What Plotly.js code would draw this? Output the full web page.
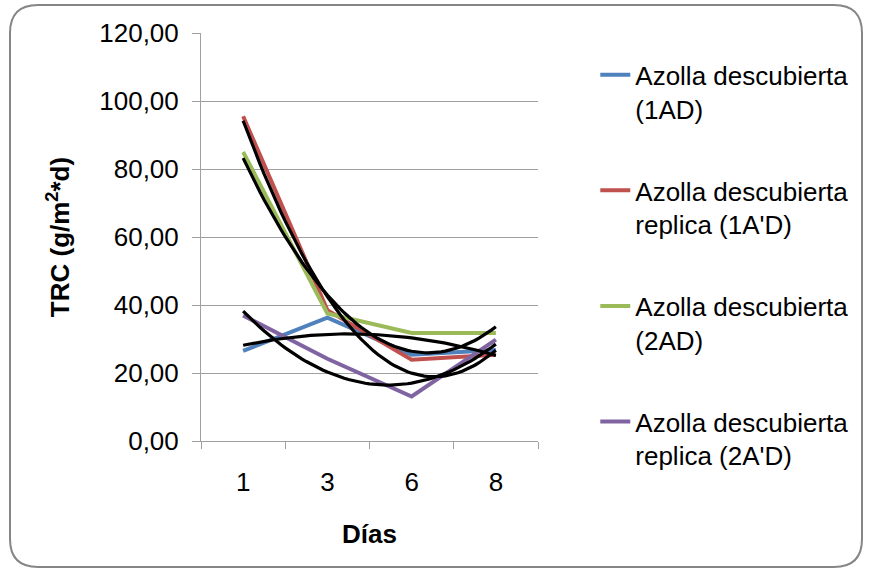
<!DOCTYPE html>
<html>
<head>
<meta charset="utf-8">
<script src="https://cdn.plot.ly/plotly-3.0.1.min.js"></script>
<style>
  html, body { margin: 0; padding: 0; background: #ffffff; }
  #chart { width: 870px; height: 573px; }
</style>
</head>
<body>
<div id="chart"></div>
<script>
// Sampling days (category axis)
const dias = ['1', '3', '6', '8'];

// TRC (g/m2*d) per treatment
const trc1AD  = [26.5, 36.3, 25.4, 26.8];
const trc1pAD = [95.5, 38.5, 23.9, 25.4];
const trc2AD  = [85.0, 37.5, 31.8, 31.8];
const trc2pAD = [36.9, 24.2, 13.1, 29.8];

const nombres = [
  'Azolla descubierta<br>(1AD)',
  "Azolla descubierta<br>replica (1A'D)",
  'Azolla descubierta<br>(2AD)',
  "Azolla descubierta<br>replica (2A'D)"
];
const colores = ['#4F81BD', '#C0504D', '#9BBB59', '#8064A2'];
const series = [trc1AD, trc1pAD, trc2AD, trc2pAD];

// Category positions 1..n (as a spreadsheet line chart uses them)
const pos = dias.map((d, i) => i + 1);

// Second-order polynomial least-squares fit: y = a + b*x + c*x^2
function ajustePoli2(xs, ys) {
  let S = [0, 0, 0, 0, 0], T = [0, 0, 0];
  xs.forEach((x, i) => {
    for (let k = 0; k < 5; k++) S[k] += Math.pow(x, k);
    for (let k = 0; k < 3; k++) T[k] += ys[i] * Math.pow(x, k);
  });
  const M = [[S[0], S[1], S[2], T[0]], [S[1], S[2], S[3], T[1]], [S[2], S[3], S[4], T[2]]];
  for (let c = 0; c < 3; c++) {
    for (let r = c + 1; r < 3; r++) {
      const f = M[r][c] / M[c][c];
      for (let k = c; k < 4; k++) M[r][k] -= f * M[c][k];
    }
  }
  const sol = [0, 0, 0];
  for (let r = 2; r >= 0; r--) {
    let s = M[r][3];
    for (let k = r + 1; k < 3; k++) s -= M[r][k] * sol[k];
    sol[r] = s / M[r][r];
  }
  return x => sol[0] + sol[1] * x + sol[2] * x * x;
}

const traces = [];
series.forEach((ys, i) => {
  traces.push({
    x: pos, y: ys, type: 'scatter', mode: 'lines',
    name: nombres[i], legendgroup: 'g' + i,
    line: { color: colores[i], width: 4 },
    hoverinfo: 'skip'
  });
});

// Polynomial trendlines (black), one per series
const xs = [];
for (let x = pos[0]; x <= pos[pos.length - 1] + 1e-9; x += 0.05) xs.push(x);
series.forEach((ys, i) => {
  const f = ajustePoli2(pos, ys);
  traces.push({
    x: xs, y: xs.map(f), type: 'scatter', mode: 'lines',
    xaxis: 'x2', yaxis: 'y',
    showlegend: false, hoverinfo: 'skip',
    line: { color: '#000000', width: 3.2 }
  });
});

const gris = '#A0A0A0';
const fuente = 'Liberation Sans, Arial, sans-serif';
const rangoX = [0.5, pos.length + 0.5];
const limites = [];
for (let i = 0; i <= pos.length; i++) limites.push(i + 0.5);

// Rounded chart-area frame, defined in pixels and converted to paper units
const W = 870, H = 573, mL = 201, mR = 332, mT = 33, mB = 132;
const pw = W - mL - mR, ph = H - mT - mB;
const px = v => (v - mL) / pw;
const py = v => (H - mB - v) / ph;
function marco(x0, y0, x1, y1, r) {
  return 'M' + px(x0 + r) + ',' + py(y0) +
    ' L' + px(x1 - r) + ',' + py(y0) +
    ' Q' + px(x1) + ',' + py(y0) + ' ' + px(x1) + ',' + py(y0 + r) +
    ' L' + px(x1) + ',' + py(y1 - r) +
    ' Q' + px(x1) + ',' + py(y1) + ' ' + px(x1 - r) + ',' + py(y1) +
    ' L' + px(x0 + r) + ',' + py(y1) +
    ' Q' + px(x0) + ',' + py(y1) + ' ' + px(x0) + ',' + py(y1 - r) +
    ' L' + px(x0) + ',' + py(y0 + r) +
    ' Q' + px(x0) + ',' + py(y0) + ' ' + px(x0 + r) + ',' + py(y0) + ' Z';
}

const layout = {
  width: W, height: H,
  margin: { l: mL, r: mR, t: mT, b: mB, pad: 0, autoexpand: false },
  paper_bgcolor: '#ffffff', plot_bgcolor: '#ffffff',
  separators: ',.',
  font: { family: fuente, color: '#000000', size: 26 },
  showlegend: true,
  legend: {
    x: 1.17, xanchor: 'left', y: 0.955, yanchor: 'top',
    maxheight: 520,
    font: { family: fuente, size: 26, color: '#000000' },
    bgcolor: 'rgba(0,0,0,0)', borderwidth: 0,
    tracegroupgap: 45, traceorder: 'grouped', valign: 'top'
  },
  xaxis: {
    range: rangoX, tickmode: 'array', tickvals: pos, ticktext: dias,
    ticks: '', showgrid: false, zeroline: false,
    showline: true, linecolor: gris, linewidth: 1,
    tickfont: { family: fuente, size: 26 }, ticklabelstandoff: 18,
    title: { text: '<b>Días</b>', font: { family: fuente, size: 26 }, standoff: 28 },
    fixedrange: true
  },
  xaxis2: {
    overlaying: 'x', anchor: 'y', side: 'bottom',
    range: rangoX, tickmode: 'array', tickvals: limites,
    ticks: 'outside', ticklen: 7, tickcolor: gris, tickwidth: 1,
    showticklabels: false, showgrid: false, zeroline: false, showline: false,
    fixedrange: true
  },
  yaxis: {
    range: [0, 120], dtick: 20, tickformat: '.2f',
    showgrid: true, gridcolor: gris, gridwidth: 1, zeroline: false,
    showline: true, linecolor: gris, linewidth: 1,
    ticks: 'outside', ticklen: 8, tickcolor: gris, tickwidth: 1,
    tickfont: { family: fuente, size: 26 }, ticklabelstandoff: 8,
    title: { text: '<b>TRC (g/m<sup>2</sup>*d)</b>', font: { family: fuente, size: 26 }, standoff: 22 },
    fixedrange: true
  },
  shapes: [{
    type: 'path', xref: 'paper', yref: 'paper', layer: 'below',
    path: marco(10, 5, 862, 567, 28),
    line: { color: '#868686', width: 2 }, fillcolor: 'rgba(0,0,0,0)'
  }]
};

Plotly.newPlot('chart', traces, layout, { staticPlot: true, displayModeBar: false });
</script>
</body>
</html>
